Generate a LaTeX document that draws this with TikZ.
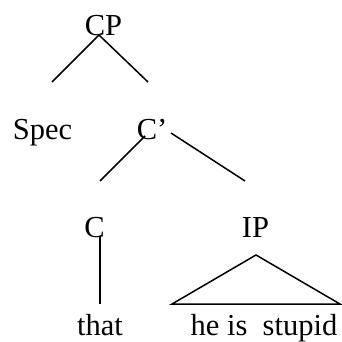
\documentclass[tikz,border=0pt]{standalone}
\usepackage{fontspec}
\setmainfont{Liberation Serif}
\usepackage{tikz}
\usetikzlibrary{positioning}

\begin{document}
\begin{tikzpicture}[x=1pt, y=-1pt,
    label/.style={anchor=base, inner sep=0pt, font=\fontsize{30.5}{30.5}\selectfont},
    branch/.style={black, line width=1.5pt}]
      \useasboundingbox (0,0) rectangle (342,342);
      % labels of the tree
      \node[label] (cp)    at (103.5,36) {CP};
      \node[label] (spec)  at (42.5,139) {Spec};
      \node[label] (cbar)  at (152,139)  {C’};
      \node[label] (c)     at (94.5,237) {C};
      \node[label] (ip)    at (255.5,237) {IP};
      \node[label] (that)  at (100,335)  {that};
      \node[label] (words) at (264,335)  {he is\ \ stupid};
      % branch ends
      \coordinate (cp-top)    at (99,35);
      \coordinate (spec-top)  at (52,82);
      \coordinate (cbar-top)  at (148,82);
      \coordinate (cbar-l)    at (145,136);
      \coordinate (cbar-r)    at (171,133);
      \coordinate (c-top)     at (100,181);
      \coordinate (ip-top)    at (245,181);
      \coordinate (c-foot)    at (100,236);
      \coordinate (that-top)  at (100,304);
      \coordinate (ip-foot)   at (256,255);
      \coordinate (words-l)   at (172,304);
      \coordinate (words-r)   at (340,304);
      \draw[branch] (spec-top) -- (cp-top) -- (cbar-top);
      \draw[branch] (cbar-l) -- (c-top);
      \draw[branch] (cbar-r) -- (ip-top);
      \draw[branch] (c-foot) -- (that-top);
      % Roof over the IP
      \draw[branch] (ip-foot) -- (words-l) -- (words-r) -- cycle;
    \end{tikzpicture}
\end{document}
